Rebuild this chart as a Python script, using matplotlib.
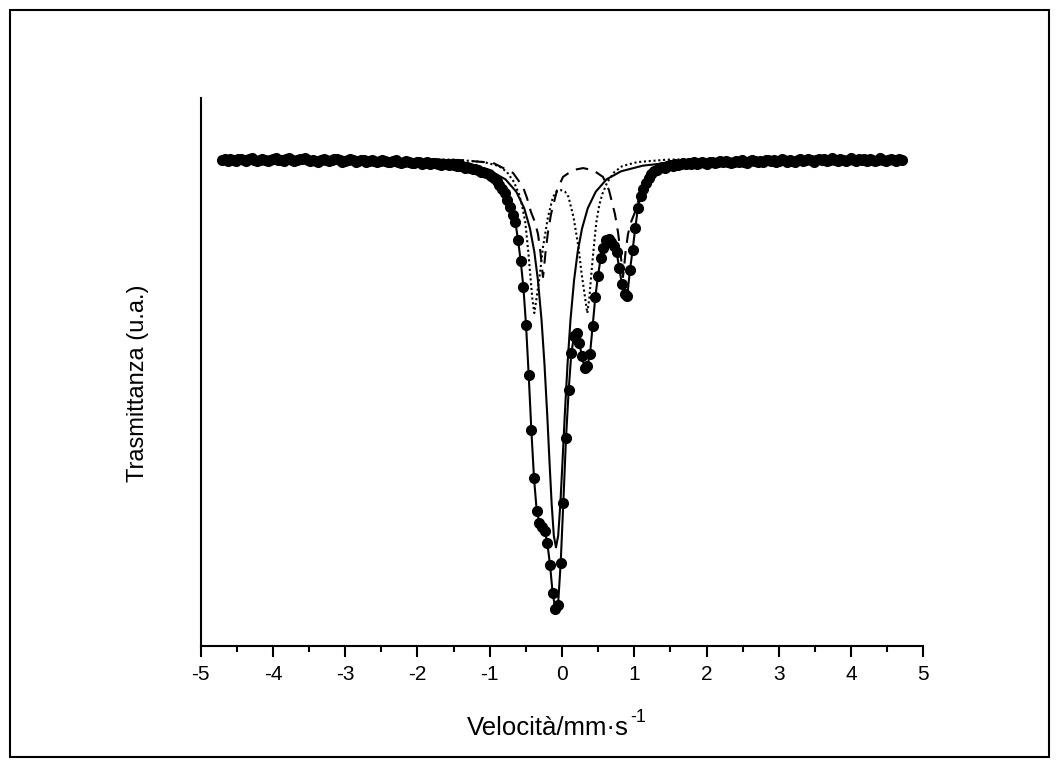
import numpy as np
import matplotlib.pyplot as plt
from matplotlib.patches import Rectangle

plt.rcParams['font.family'] = ['Liberation Sans', 'DejaVu Sans']
plt.rcParams['axes.unicode_minus'] = False

# spettro Mossbauer: 256 canali equispaziati tra -4.7 e 4.7 mm/s
velocity = np.linspace(-4.7, 4.7, 256)
transmittance = [
    99.95, 99.98, 99.93, 99.97, 99.95, 99.92, 99.97, 99.98, 99.94, 99.93,
    99.97, 99.99, 99.95, 99.92, 99.95, 99.98, 99.96, 99.93, 99.95, 99.98,
    99.99, 99.94, 99.96, 99.93, 99.97, 99.99, 99.96, 99.92, 99.95, 99.97,
    99.98, 99.99, 99.95, 99.93, 99.96, 99.92, 99.91, 99.94, 99.97, 99.95,
    99.92, 99.95, 99.97, 99.98, 99.94, 99.91, 99.93, 99.96, 99.97, 99.94,
    99.91, 99.93, 99.96, 99.94, 99.91, 99.93, 99.96, 99.93, 99.90, 99.92,
    99.95, 99.93, 99.90, 99.89, 99.92, 99.94, 99.91, 99.88, 99.90, 99.93,
    99.91, 99.88, 99.87, 99.90, 99.89, 99.86, 99.88, 99.90, 99.85, 99.87,
    99.88, 99.85, 99.83, 99.86, 99.85, 99.82, 99.84, 99.82, 99.79, 99.81,
    99.79, 99.76, 99.78, 99.75, 99.72, 99.72, 99.70, 99.66, 99.66, 99.63,
    99.60, 99.55, 99.50, 99.43, 99.33, 99.23, 99.13, 98.95, 98.78, 98.58,
    98.40, 97.95, 97.43, 96.78, 95.83, 94.58, 93.20, 92.00, 91.20, 90.90,
    90.80, 90.70, 90.38, 89.85, 89.13, 88.75, 88.83, 89.88, 91.40, 93.00,
    94.20, 95.13, 95.55, 95.63, 95.38, 95.05, 94.75, 94.80, 95.10, 95.80,
    96.53, 97.05, 97.50, 97.75, 97.95, 97.98, 97.90, 97.80, 97.65, 97.25,
    96.85, 96.60, 96.55, 97.20, 97.70, 98.25, 98.75, 99.05, 99.23, 99.38,
    99.50, 99.60, 99.68,
    99.71, 99.75, 99.77, 99.75, 99.80, 99.83, 99.81, 99.85, 99.83, 99.86,
    99.87, 99.84, 99.88, 99.86, 99.89, 99.85, 99.88, 99.90, 99.88, 99.85,
    99.89, 99.91, 99.88, 99.90, 99.92, 99.89, 99.93, 99.90, 99.87, 99.91,
    99.93, 99.90, 99.94, 99.91, 99.88, 99.92, 99.95, 99.92, 99.89, 99.93,
    99.91, 99.94, 99.96, 99.92, 99.95, 99.90, 99.93, 99.97, 99.94, 99.91,
    99.96, 99.93, 99.90, 99.94, 99.97, 99.93, 99.95, 99.98, 99.94, 99.91,
    99.95, 99.98, 99.94, 99.97, 99.92, 99.95, 99.99, 99.96, 99.93, 99.98,
    99.95, 99.92, 99.96, 99.99, 99.95, 99.93, 99.98, 99.95, 99.97, 99.93,
    99.98, 99.95, 99.92, 99.96, 99.99, 99.95, 99.93, 99.96, 99.98, 99.95,
    99.93, 99.97, 99.95,
]

# singoletto (linea continua)
singlet_v = [-4.70, -2.283, -1.683, -1.283, -0.983, -0.783, -0.633, -0.523, -0.443,
             -0.383, -0.333, -0.283, -0.243, -0.203, -0.173, -0.143, -0.113, -0.083,
             -0.053, -0.023, 0.007, 0.037, 0.077, 0.117, 0.167, 0.217, 0.277, 0.357,
             0.467, 0.617, 0.817, 1.117, 1.517, 2.117, 4.70]
singlet_t = [99.99, 99.94, 99.89, 99.81, 99.67, 99.47, 99.16, 98.75, 98.24, 97.66,
             96.95, 95.95, 94.87, 93.54, 92.42, 91.36, 90.57, 90.28, 90.57, 91.36,
             92.42, 93.54, 94.87, 95.95, 96.95, 97.66, 98.24, 98.75, 99.16, 99.47,
             99.67, 99.81, 99.89, 99.94, 99.99]

# primo doppietto (punteggiato)
dotted_v = [-4.70, -2.242, -1.481, -1.079, -0.872, -0.761, -0.664, -0.595, -0.554,
            -0.508, -0.466, -0.439, -0.411, -0.383, -0.350, -0.304, -0.263, -0.194,
            -0.125, -0.076, -0.017, 0.042, 0.090, 0.159, 0.228, 0.270, 0.318, 0.350,
            0.378, 0.405, 0.433, 0.475, 0.516, 0.558, 0.627, 0.724, 0.834, 1.042,
            1.453, 2.187, 4.70]
dotted_t = [99.99, 99.98, 99.96, 99.90, 99.80, 99.65, 99.40, 99.10, 98.83, 98.40,
            97.65, 97.08, 96.50, 96.13, 96.53, 97.13, 97.78, 98.53, 99.03, 99.16,
            99.20, 99.16, 99.03, 98.53, 97.78, 97.13, 96.53, 96.13, 96.50, 97.08,
            97.65, 98.40, 98.83, 99.10, 99.40, 99.65, 99.80, 99.90, 99.96, 99.98,
            99.99]

# secondo doppietto (tratteggiato)
dashed_v = [-4.70, -2.242, -1.412, -0.955, -0.678, -0.540, -0.484, -0.429, -0.374,
            -0.332, -0.298, -0.277, -0.263, -0.249, -0.228, -0.194, -0.152, -0.069,
            0.014, 0.152, 0.291, 0.429, 0.567, 0.650, 0.733, 0.775, 0.810, 0.830,
            0.844, 0.858, 0.879, 0.913, 0.955, 1.010, 1.066, 1.121, 1.259, 1.536,
            1.993, 3.017, 4.70]
dashed_t = [99.99, 99.98, 99.95, 99.88, 99.63, 99.28, 99.00, 98.65, 98.40, 98.10,
            97.65, 97.25, 97.03, 97.25, 97.65, 98.15, 98.60, 99.20, 99.53, 99.70,
            99.75, 99.70, 99.53, 99.20, 98.60, 98.15, 97.65, 97.25, 97.03, 97.25,
            97.65, 98.10, 98.40, 98.65, 99.00, 99.28, 99.63, 99.88, 99.95, 99.98,
            99.99]

W, H = 1059, 767
fig = plt.figure(figsize=(W / 100, H / 100), dpi=100)
fig.patches.append(Rectangle((10 / W, 10 / H), 1039 / W, 747 / H, transform=fig.transFigure,
                             fill=False, edgecolor='black', linewidth=1.5))

ax = fig.add_axes([200.7 / W, 1 - 645.7 / H, 722.6 / W, 547.7 / H])
ax.plot(singlet_v, singlet_t, '-', color='black', lw=1.5, zorder=2)
ax.plot(dotted_v, dotted_t, color='black', lw=1.5, linestyle=(0, (1, 1.3)), zorder=2)
ax.plot(dashed_v, dashed_t, color='black', lw=1.5, linestyle=(0, (6, 4)), zorder=2)
ax.plot(velocity, transmittance, '-o', color='black', lw=1.5, ms=7, zorder=3)

ax.set_xlim(-5, 5)
ax.set_ylim(87.825, 101.5)
ax.set_xticks(np.arange(-5, 6, 1))
ax.set_xticks(np.arange(-4.5, 5, 1), minor=True)
ax.set_xticklabels([str(t) for t in range(-5, 6)])
ax.set_yticks([])
for s in ['top', 'right']:
    ax.spines[s].set_visible(False)
for s in ['left', 'bottom']:
    ax.spines[s].set_linewidth(1.5)
ax.tick_params(axis='x', which='major', direction='out', length=8, width=1.5,
               labelsize=15, pad=6)
ax.tick_params(axis='x', which='minor', direction='out', length=4.5, width=1.5)

lab = fig.text(467 / W, 32 / H, 'Velocità/mm·s', fontsize=18.5, ha='left', va='baseline')
fig.canvas.draw()
bb = lab.get_window_extent()
fig.text(bb.x1 / W + 0.001, 45 / H, '-1', fontsize=13, ha='left', va='baseline')

fig.text(138 / W, 1 - 383 / H, 'Trasmittanza (u.a.)', fontsize=17, rotation=90,
         ha='center', va='center')

fig.savefig('out.png', dpi=100)
